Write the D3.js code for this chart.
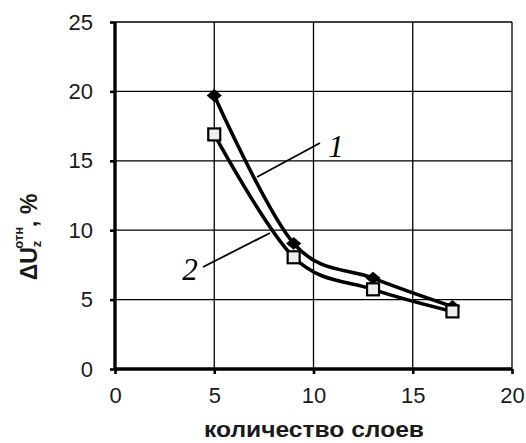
<!DOCTYPE html>
<html>
<head>
<meta charset="utf-8">
<script src="https://cdn.jsdelivr.net/npm/d3@7"></script>
<style>
  html, body { margin: 0; padding: 0; background: #fff; }
  svg { display: block; }
</style>
</head>
<body>
<svg id="chart" width="526" height="443"></svg>
<script>
// Number of layers and relative voltage drop, %
const layers = [5, 9, 13, 17];
const series1 = [19.7, 9.05, 6.55, 4.5];
const series2 = [16.9, 8.05, 5.74, 4.15];
const xTicks = [0, 5, 10, 15, 20];
const yTicks = [0, 5, 10, 15, 20, 25];
const xTitle = "количество слоев";

const svg = d3.select("#chart");
const font = "Arial, 'Liberation Sans', sans-serif";

const x = d3.scaleLinear().domain([0, 20]).range([115, 512]);
const y = d3.scaleLinear().domain([0, 25]).range([369, 22]);

// grid
svg.append("g").selectAll("line").data(yTicks.slice(1)).join("line")
  .attr("x1", x(0)).attr("x2", x(20))
  .attr("y1", d => y(d)).attr("y2", d => y(d))
  .attr("stroke", "#000").attr("stroke-width", 1.3);
svg.append("g").selectAll("line").data(xTicks.slice(1)).join("line")
  .attr("x1", d => x(d)).attr("x2", d => x(d))
  .attr("y1", y(0)).attr("y2", y(25))
  .attr("stroke", "#000").attr("stroke-width", 1.3);

// axes
const xAxis = svg.append("g").attr("transform", `translate(0,${y(0)})`)
  .call(d3.axisBottom(x).tickValues(xTicks).tickSize(5).tickPadding(13));
const yAxis = svg.append("g").attr("transform", `translate(${x(0)},0)`)
  .call(d3.axisLeft(y).tickValues(yTicks).tickSize(5).tickPadding(17));
xAxis.select(".domain").attr("d", `M${x(0)},0H${x(20)}`);
yAxis.select(".domain").attr("d", `M0,${y(0)}V${y(25)}`);
[xAxis, yAxis].forEach(g => {
  g.select(".domain").attr("stroke", "#000").attr("stroke-width", 3.4);
  g.selectAll(".tick line").attr("stroke", "#000").attr("stroke-width", 2.6);
  g.selectAll(".tick text").attr("fill", "#1a1a1a")
    .style("font-family", font).style("font-size", "22px");
});

// smoothed curves
const line = d3.line().curve(d3.curveCatmullRom.alpha(0))
  .x((d, i) => x(layers[i])).y(d => y(d));
[series1, series2].forEach(s => {
  svg.append("path").datum(s).attr("d", line)
    .attr("fill", "none").attr("stroke", "#000").attr("stroke-width", 3.6)
    .attr("stroke-linejoin", "round");
});

// markers: filled diamonds (slightly wider than tall) for series 1, hollow squares for series 2
const wideDiamond = {
  draw(ctx, size) {
    const w = Math.sqrt(size) * 0.62, h = w * 0.85;
    ctx.moveTo(0, -h); ctx.lineTo(w, 0); ctx.lineTo(0, h); ctx.lineTo(-w, 0); ctx.closePath();
  }
};
svg.append("g").selectAll("path").data(series1).join("path")
  .attr("transform", (d, i) => `translate(${x(layers[i])},${y(d)})`)
  .attr("d", d3.symbol(wideDiamond, 150)())
  .attr("fill", "#000");
svg.append("g").selectAll("rect").data(series2).join("rect")
  .attr("x", (d, i) => x(layers[i]) - 6).attr("y", d => y(d) - 6)
  .attr("width", 12).attr("height", 12)
  .attr("fill", "#eeeeee").attr("stroke", "#000").attr("stroke-width", 2.2);

// curve labels with leader lines
const labels = [
  { text: "1", lx: 336, ly: 157, x1: 257, y1: 177, x2: 320, y2: 143 },
  { text: "2", lx: 190, ly: 280, x1: 270, y1: 233, x2: 203, y2: 267 }
];
labels.forEach(l => {
  svg.append("line").attr("x1", l.x1).attr("y1", l.y1).attr("x2", l.x2).attr("y2", l.y2)
    .attr("stroke", "#000").attr("stroke-width", 1.8);
  svg.append("text").attr("x", l.lx).attr("y", l.ly).attr("text-anchor", "middle")
    .style("font-family", "'Liberation Serif', 'Times New Roman', serif")
    .style("font-style", "italic").style("font-size", "31px").text(l.text);
});

// axis titles
svg.append("text").attr("x", 314).attr("y", 437).attr("text-anchor", "middle")
  .style("font-family", font).style("font-weight", "bold").style("font-size", "22.5px")
  .attr("textLength", 220).attr("lengthAdjust", "spacingAndGlyphs")
  .attr("fill", "#1a1a1a").text(xTitle);

const yt = svg.append("text").attr("transform", "translate(37,237) rotate(-90)")
  .attr("text-anchor", "middle")
  .style("font-family", font).style("font-weight", "bold").style("font-size", "23px")
  .attr("fill", "#1a1a1a");
yt.append("tspan").text("ΔU");
yt.append("tspan").attr("dy", 4).style("font-size", "13px").text("z");
yt.append("tspan").attr("dx", -8).attr("dy", -18).style("font-size", "13px").text("отн");
yt.append("tspan").attr("dy", 14).text(", %");
</script>
</body>
</html>
